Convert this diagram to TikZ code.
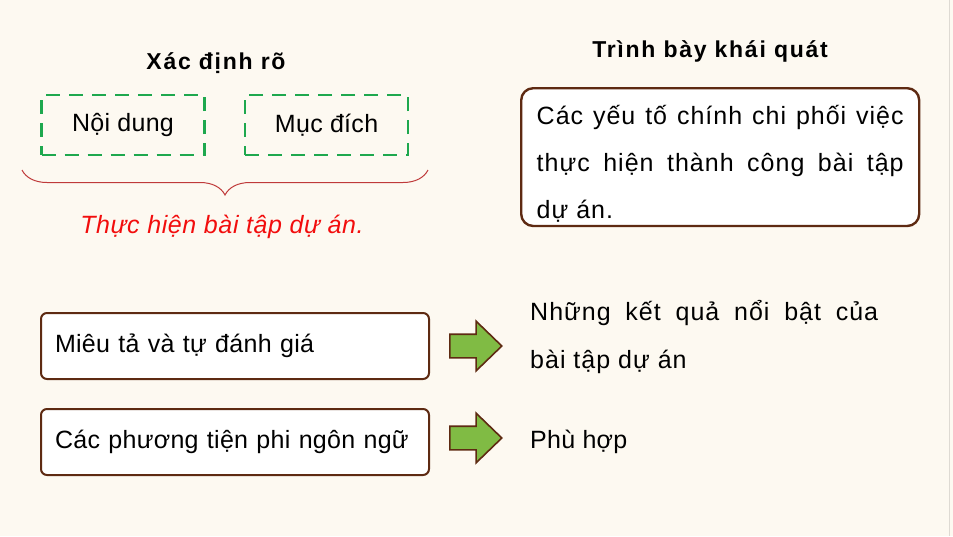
\documentclass[tikz,border=0pt]{standalone}
\usepackage{fontspec}
\setmainfont{Liberation Sans}[LetterSpace=1.2]
\usepackage{tikz}
\usetikzlibrary{positioning,shapes.arrows,decorations.pathreplacing}
\definecolor{bg}{HTML}{FDF9F1}
\definecolor{edge}{HTML}{DEDAD3}
\definecolor{brownline}{HTML}{5E2A12}
\definecolor{dashgreen}{HTML}{1EA84E}
\definecolor{arrgreen}{HTML}{80BB44}
\definecolor{notered}{HTML}{F20D0D}
\definecolor{bracered}{HTML}{BF3A3A}
\tikzset{
  title/.style={font=\fontsize{23}{26}\selectfont\bfseries\addfontfeature{LetterSpace=7.5}, inner sep=0pt},
  dashbox/.style={draw=dashgreen, dash pattern=on 14pt off 9pt, line width=2.6pt,
    minimum width=163pt, minimum height=60pt, font=\fontsize{25}{28}\selectfont},
  summary/.style={draw=brownline, line width=2.4pt, rounded corners=12pt, fill=white,
    text width=367pt, align=justify, inner xsep=15.5pt, inner ysep=4pt,
    font=\fontsize{25}{47}\selectfont\addfontfeature{LetterSpace=4}},
  itembox/.style={draw=brownline, line width=2pt, rounded corners=6pt, fill=white,
    minimum height=66pt, text width=360pt, align=left, inner xsep=14pt,
    font=\fontsize{25}{28}\selectfont},
  bigarrow/.style={single arrow, draw=brownline, fill=arrgreen, line width=1.6pt,
    text height=11pt, text depth=11pt, single arrow head extend=13pt, minimum height=52pt,
    single arrow tip angle=88, inner sep=0pt},
  plain/.style={font=\fontsize{25}{48}\selectfont, inner sep=0pt},
  bracer/.style={draw=bracered, line width=1pt, decorate,
    decoration={brace, amplitude=25pt, mirror}}
}
\begin{document}
\begin{tikzpicture}[x=1pt, y=-1pt]
  \useasboundingbox (0,0) rectangle (953,536);
  \fill[bg] (0,0) rectangle (953,536);
  \draw[edge, line width=1pt] (949.5,0) -- (949.5,536);

  % left block
  \node[title, anchor=base] (xacdinh) at (216,69) {Xác định rõ};
  \node[dashbox] (noidung) at (123,125) {Nội dung};
  \node[dashbox, right=38pt of noidung] (mucdich) {Mục đích};
  \coordinate (braceL) at (22,170);
  \coordinate (braceR) at (428,170);
  \draw[bracer] (braceL) -- (braceR);
  \node[plain, text=notered, font=\fontsize{25}{28}\selectfont\itshape\addfontfeature{LetterSpace=2.5}, anchor=base] (thuchien) at (222,233) {Thực hiện bài tập dự án.};

  % right block
  \node[title, anchor=base] (trinhbay) at (710,57) {Trình bày khái quát};
  \node[summary, anchor=north west] (yeuto) at (520,87)
    {\rule{0pt}{32pt}Các yếu tố chính chi phối việc\linebreak thực hiện thành công bài tập\linebreak dự án.};

  % rows
  \node[itembox] (mieuta) at (235,346) {Miêu tả và tự đánh giá};
  \node[itembox, below=28pt of mieuta] (phuongtien) {Các phương tiện phi ngôn ngữ};
  \node[bigarrow, right=19pt of mieuta] (arr1) {};
  \node[bigarrow, right=19pt of phuongtien, yshift=4pt] (arr2) {};
  \node[plain, anchor=north west, text width=348pt, align=justify,
    font=\fontsize{25}{48}\selectfont\addfontfeature{LetterSpace=4}] (ketqua) at (530,300)
    {Những kết quả nổi bật của\linebreak bài tập dự án};
  \node[plain, anchor=base west] (phuhop) at (530,448) {Phù hợp};
\end{tikzpicture}
\end{document}
